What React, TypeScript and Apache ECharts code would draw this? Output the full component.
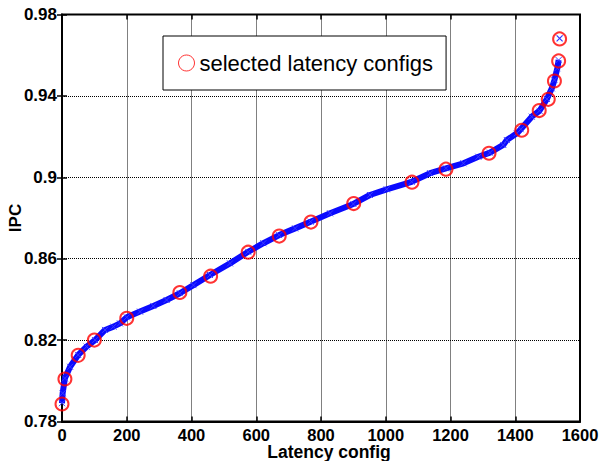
import React, { useEffect, useRef } from "react";
import * as echarts from "echarts";

// Blue "all configs" band
const bandLatency = [0, 2, 9, 25, 50, 76, 102, 133, 159, 179, 200, 241, 282, 323, 364, 406, 457, 519, 575, 622, 671, 720, 768, 828, 900, 951, 1003, 1080, 1137, 1186, 1240, 1286, 1322, 1363, 1374, 1405, 1417, 1451, 1475, 1498, 1513, 1521, 1530, 1534];
const bandIPC = [0.789, 0.7939, 0.8012, 0.8069, 0.8127, 0.8168, 0.82, 0.825, 0.8266, 0.8282, 0.8312, 0.834, 0.8368, 0.8397, 0.843, 0.847, 0.852, 0.8577, 0.8634, 0.8676, 0.8716, 0.8749, 0.8782, 0.8823, 0.8869, 0.8913, 0.8941, 0.8978, 0.902, 0.9044, 0.9069, 0.9101, 0.9121, 0.9159, 0.9183, 0.9216, 0.9236, 0.9298, 0.9327, 0.9385, 0.9437, 0.9478, 0.9536, 0.9576];
// isolated blue markers
const loneLatency = [1537];
const loneIPC = [0.9683];

// Selected latency configs (red circles)
const selLatency = [0, 9, 50, 100, 200, 364, 459, 575, 671, 769, 901, 1081, 1186, 1319, 1420, 1474, 1502, 1521, 1534, 1537];
const selIPC = [0.7886, 0.8009, 0.8125, 0.82, 0.8307, 0.8434, 0.8514, 0.8632, 0.8711, 0.878, 0.8871, 0.8976, 0.904, 0.9118, 0.9231, 0.9328, 0.9383, 0.9473, 0.9572, 0.968];

const xTicks = { min: 0, max: 1600, interval: 200 };
const yTicks = { min: 0.78, max: 0.98, interval: 0.04 };

const FONT = "'Liberation Sans', Arial, Helvetica, sans-serif";
const XMARK = "path://M0,0L10,10M10,0L0,10";

export default function App() {
  const ref = useRef<HTMLDivElement>(null);
  useEffect(() => {
    if (!ref.current) return;
    const chart = echarts.init(ref.current, undefined, { renderer: "svg" });
    const band = bandLatency.map((x, i) => [x, bandIPC[i]]);
    const lone = loneLatency.map((x, i) => [x, loneIPC[i]]);
    const sel = selLatency.map((x, i) => [x, selIPC[i]]);
    const tickLabel = { color: "#000", fontFamily: FONT, fontWeight: "bold" as const, fontSize: 16.5, lineHeight: 16 };
    chart.setOption({
      animation: false,
      backgroundColor: "#fff",
      grid: { left: 62, right: 19, top: 14.5, bottom: 39.5, show: true, borderColor: "#000", borderWidth: 2, backgroundColor: "transparent", containLabel: false, outerBoundsMode: "none" },
      legend: {
        data: [{ name: "selected latency configs", icon: "circle", itemStyle: { color: "transparent", borderColor: "#ff0000", borderWidth: 1 } }],
        left: 163,
        top: 36,
        orient: "vertical",
        itemWidth: 16,
        itemHeight: 16,
        padding: [16, 13, 16, 15],
        borderColor: "#000",
        borderWidth: 1,
        borderRadius: 0,
        backgroundColor: "#fff",
        textStyle: { fontFamily: FONT, fontSize: 22, color: "#000", lineHeight: 22 },
        selectedMode: false,
      },
      xAxis: [
        {
          type: "value",
          ...xTicks,
          name: "Latency config",
          nameLocation: "middle",
          nameGap: 22,
          nameMoveOverlap: false,
          nameTextStyle: { color: "#000", fontFamily: FONT, fontWeight: "bold", fontSize: 17.5, lineHeight: 17, padding: [0, 0, 0, 16] },
          axisLine: { show: true, lineStyle: { color: "#000", width: 2 } },
          axisTick: { show: true, inside: true, length: 5, lineStyle: { color: "#000", width: 1.5 } },
          axisLabel: { ...tickLabel, margin: 5, formatter: (v: number) => String(v) },
          splitLine: { show: true, lineStyle: { color: "#000", type: "dotted", width: 1 } },
        },
        {
          type: "value",
          ...xTicks,
          position: "top",
          axisLine: { show: false },
          axisTick: { show: true, inside: true, length: 5, lineStyle: { color: "#000", width: 1.5 } },
          axisLabel: { show: false },
          splitLine: { show: false },
        },
      ],
      yAxis: [
        {
          type: "value",
          ...yTicks,
          name: "IPC",
          nameLocation: "middle",
          nameGap: 38,
          nameMoveOverlap: false,
          nameTextStyle: { color: "#000", fontFamily: FONT, fontWeight: "bold", fontSize: 17 },
          axisLine: { show: true, lineStyle: { color: "#000", width: 2 } },
          axisTick: { show: true, inside: true, length: 5, lineStyle: { color: "#000", width: 1.5 } },
          axisLabel: { ...tickLabel, fontSize: 17, margin: 5, formatter: (v: number) => String(Math.round(v * 100) / 100) },
          splitLine: { show: true, lineStyle: { color: "#000", type: "dotted", width: 1 } },
        },
        {
          type: "value",
          ...yTicks,
          position: "right",
          axisLine: { show: false },
          axisTick: { show: true, inside: true, length: 5, lineStyle: { color: "#000", width: 1.5 } },
          axisLabel: { show: false },
          splitLine: { show: false },
        },
      ],
      series: [
        {
          name: "all latency configs",
          type: "line",
          data: band,
          showSymbol: true,
          symbol: XMARK,
          symbolSize: 6,
          lineStyle: { color: "#0a0aff", width: 6 },
          itemStyle: { color: "transparent", borderColor: "#3a3aff", borderWidth: 1 },
          z: 2,
        },
        {
          name: "lone",
          type: "scatter",
          data: lone,
          symbol: XMARK,
          symbolSize: 6,
          itemStyle: { color: "transparent", borderColor: "#0000ff", borderWidth: 1.2 },
          z: 2,
        },
        {
          name: "selected latency configs",
          type: "scatter",
          data: sel,
          symbol: "circle",
          symbolSize: 13,
          itemStyle: { color: "transparent", borderColor: "#ff0000", borderWidth: 2 },
          z: 3,
        },
      ],
    });
    return () => chart.dispose();
  }, []);
  return <div ref={ref} style={{ position: "fixed", left: 0, top: 0, width: 599, height: 461 }} />;
}
